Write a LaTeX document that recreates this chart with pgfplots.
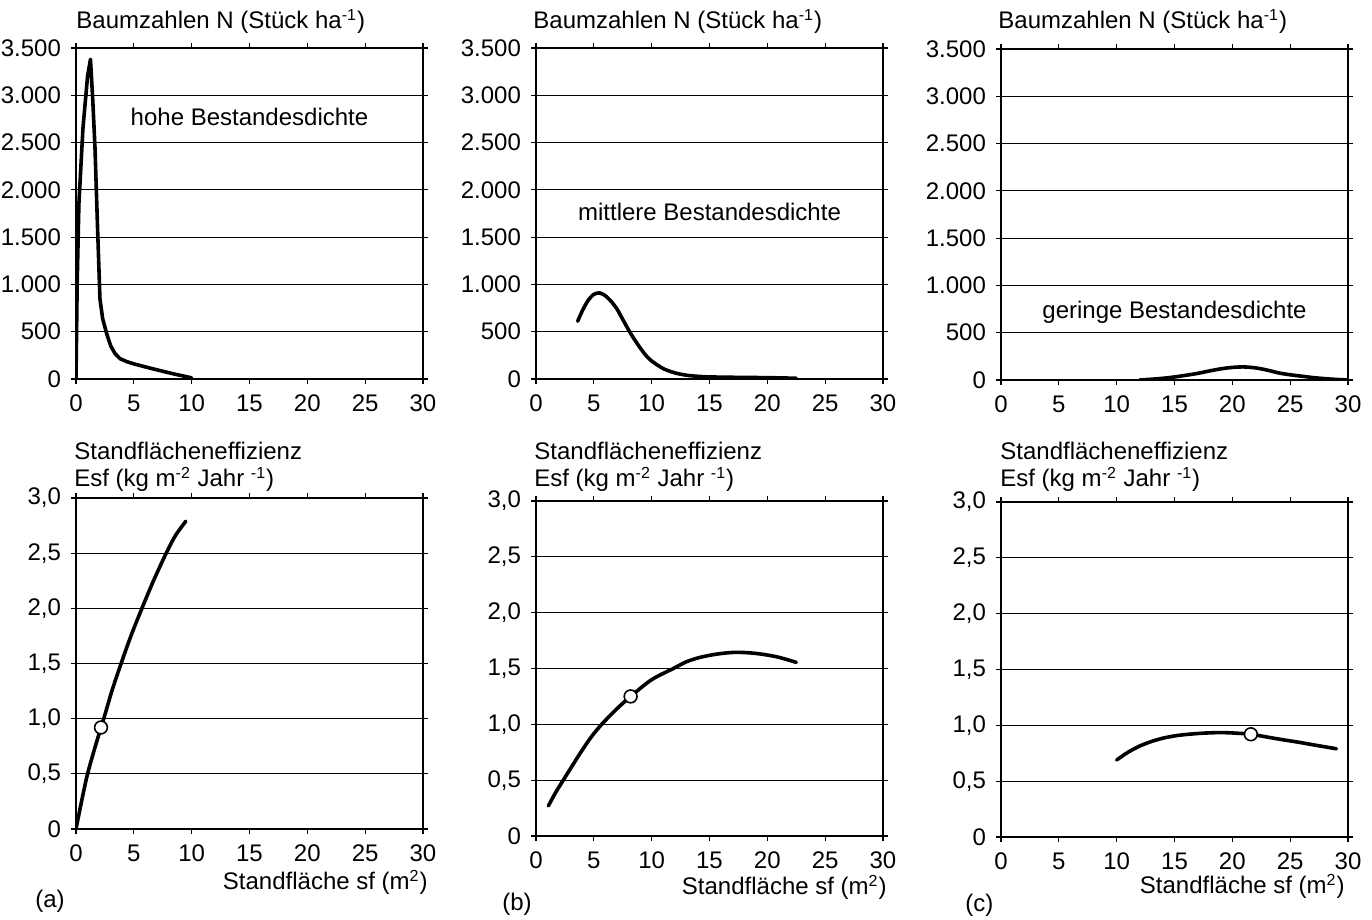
\documentclass[border=0pt]{standalone}
\usepackage{fontspec}
\setmainfont{Liberation Sans}
\usepackage{pgfplots}
\pgfplotsset{compat=1.18}

\newcommand{\fs}{\fontsize{12}{14}\selectfont}

\pgfplotsset{
  panel/.style={
    scale only axis,
    width=173.5pt,
    xmin=0, xmax=30,
    xtick={0,5,...,30},
    ymajorgrids,
    major grid style={black, line width=0.5pt},
    axis line style={black, line width=1pt},
    tick align=outside,
    major tick length=2.5pt,
    tick style={black, line width=0.6pt},
    tick label style={font=\fs},
    xticklabel style={yshift=-2pt},
    yticklabel style={xshift=-1.5pt},
    /pgf/number format/assume math mode=true,
  },
  ntop/.style={panel, height=165.5pt, ymin=0, ymax=3500,
    ytick={0,500,...,3500},
    yticklabels={0,500,1.000,1.500,2.000,2.500,3.000,3.500}},
  ebot/.style={panel, ymin=0, ymax=3,
    ytick={0,0.5,1,1.5,2,2.5,3},
    yticklabels={0,{0,5},{1,0},{1,5},{2,0},{2,5},{3,0}}},
  curve/.style={black, line width=1.8pt, line join=round, line cap=round, no markers},
  opt/.style={only marks, mark=*, mark size=3.2pt,
    mark options={fill=white, draw=black, line width=0.8pt}},
}

\begin{document}
\begin{tikzpicture}[font=\fs, txt/.style={inner sep=0pt}]
\useasboundingbox (0,0) rectangle (686pt,460pt);

% ---- top row: Baumzahlen ----
\begin{axis}[ntop, at={(38pt,270.5pt)}, anchor=south west]
\addplot[curve] coordinates {
(0,0) (0.1,1000) (0.25,1850) (0.6,2650) (1.0,3200) (1.25,3380) (1.45,2950)
(1.64,2450) (1.85,1650) (2.07,850) (2.3,640) (2.65,480) (3.0,350) (3.37,270)
(3.8,215) (4.4,183) (5.0,160) (6.4,115) (8.4,55) (10,12)
};
\node at (axis cs:15,2770) {hohe Bestandesdichte};
\end{axis}

\begin{axis}[ntop, at={(268pt,270.5pt)}, anchor=south west]
\addplot[curve, smooth] coordinates {
(3.6,610) (4.0,720) (4.5,830) (5.0,895) (5.5,910) (6.0,880) (6.5,820)
(7.0,740) (7.5,630) (8.0,520) (8.5,420) (9.0,330) (9.5,250) (10,190)
(11,110) (12,65) (13,40) (14,28) (15,22) (17,18) (20,14) (22.5,8)
};
\node at (axis cs:15,1771) {mittlere Bestandesdichte};
\end{axis}

\begin{axis}[ntop, at={(500.5pt,270pt)}, anchor=south west]
\addplot[curve, smooth] coordinates {
(12,0) (13,8) (14,18) (15,32) (16,50) (17,70) (18,95) (19,118) (20,133)
(21,138) (22,128) (23,105) (24,75) (25,55) (26,40) (27,25) (28,14) (29,6) (30,0)
};
\node at (axis cs:15,717) {geringe Bestandesdichte};
\end{axis}

\node[txt, anchor=base west] at (38pt,445.5pt) {Baumzahlen N (Stück ha\textsuperscript{-1})};
\node[txt, anchor=base west] at (266.5pt,445.5pt) {Baumzahlen N (Stück ha\textsuperscript{-1})};
\node[txt, anchor=base west] at (499pt,445.5pt) {Baumzahlen N (Stück ha\textsuperscript{-1})};

% ---- bottom row: Standflaecheneffizienz ----
\begin{axis}[ebot, height=165.5pt, at={(38pt,45.5pt)}, anchor=south west]
\addplot[curve, smooth] coordinates {
(0,0) (0.5,0.26) (1,0.5) (1.7,0.76) (2.4,1.0) (3.1,1.25) (3.9,1.5)
(4.75,1.75) (5.7,2.0) (6.7,2.25) (7.8,2.5) (8.6,2.66) (9.5,2.79)
};
\addplot[opt] coordinates {(2.16,0.92)};
\end{axis}

\begin{axis}[ebot, height=167.5pt, at={(268pt,42pt)}, anchor=south west]
\addplot[curve, smooth] coordinates {
(1.07,0.27) (1.7,0.39) (2.36,0.5) (3.2,0.64) (4,0.77) (4.8,0.89) (5.68,1.0)
(6.9,1.13) (8.18,1.25) (10,1.40) (11.87,1.5) (13,1.56) (14.2,1.6) (15.7,1.63)
(17.3,1.645) (19,1.635) (20.8,1.605) (22.5,1.555)
};
\addplot[opt] coordinates {(8.18,1.25)};
\end{axis}

\begin{axis}[ebot, height=167.5pt, at={(500.5pt,41.5pt)}, anchor=south west]
\addplot[curve, smooth] coordinates {
(10,0.69) (11,0.76) (12,0.815) (13,0.855) (14,0.885) (15,0.905) (16,0.918)
(17.5,0.93) (19,0.935) (20.3,0.93) (21.6,0.92) (23,0.895) (24.3,0.872)
(25.65,0.85) (27.3,0.82) (29,0.79)
};
\addplot[opt] coordinates {(21.6,0.92)};
\end{axis}

\foreach \x in {37pt,267pt,500pt}{
  \node[txt, anchor=base west] at (\x,230pt) {Standflächeneffizienz};
  \node[txt, anchor=base west] at (\x,216.5pt) {Esf (kg m\textsuperscript{-2} Jahr \textsuperscript{-1})};
}

\node[txt, anchor=base east] at (214pt,15pt) {Standfläche sf (m\textsuperscript{2})};
\node[txt, anchor=base east] at (443.5pt,12.5pt) {Standfläche sf (m\textsuperscript{2})};
\node[txt, anchor=base east] at (672.5pt,13pt) {Standfläche sf (m\textsuperscript{2})};

\node[txt, anchor=base west] at (17.5pt,6pt) {(a)};
\node[txt, anchor=base west] at (251pt,4.5pt) {(b)};
\node[txt, anchor=base west] at (482.5pt,4pt) {(c)};
\end{tikzpicture}
\end{document}
